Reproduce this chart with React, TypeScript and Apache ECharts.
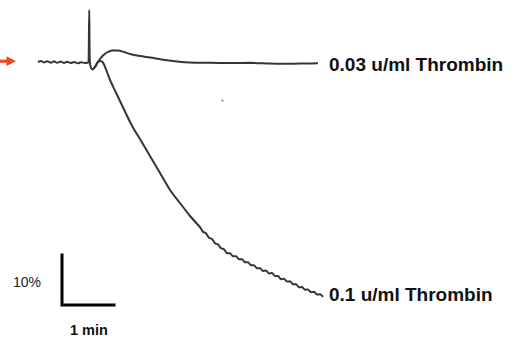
import React, { useEffect, useRef } from "react";
import * as echarts from "echarts";

// Time in seconds after recording start, aggregation in % (downward on the trace).
const lowDoseTime = [
  0, 3.5, 6.9, 10.4, 15.0, 18.5, 21.9, 26.5, 30.0, 33.5, 38.1, 41.5, 46.2, 49.6, 54.2, 57.7,
  58.4, 59.1, 59.8, 61.2, 63.0, 65.5, 68.1, 71.5, 75.0, 79.6, 85.4, 92.3, 99.2, 106.2, 117.7,
  129.2, 146.5, 160.4, 175.4, 198.5, 221.5, 244.6, 267.7, 290.8, 308.1, 323.1,
];
const lowDoseAggregation = [
  0, -0.2, 0.1, -0.16, 0.14, -0.14, 0.16, -0.1, 0.2, -0.06, 0.2, 0, 0.24, 0.06, 0.2, 0.1,
  0, -10.4, 0, 1.2, 1.5, 1.0, 0.2, -0.6, -1.3, -1.9, -2.3, -2.3, -2.0, -1.6, -1.2,
  -0.9, -0.4, -0.1, 0.1, 0.16, 0.2, 0.16, 0.3, 0.36, 0.3, 0.26,
];

const highDoseTime = [
  63.0, 66.0, 69.0, 71.5, 73.8, 76.2, 79.6, 83.1, 88.8, 94.6, 100.4, 106.2, 111.9, 117.7,
  129.2, 140.8, 152.3, 163.8, 175.4, 186.9, 190.4, 193.8, 197.3, 200.8, 204.2, 207.7, 211.2,
  214.6, 218.1, 221.5, 225.0, 228.5, 231.9, 235.4, 238.8, 242.3, 245.8, 249.2, 252.7, 256.2,
  259.6, 263.1, 266.5, 270.0, 273.5, 276.9, 280.4, 283.8, 287.3, 290.8, 294.2, 297.7, 301.2,
  304.6, 308.1, 311.5, 315.0, 318.5, 321.9, 325.4, 328.8,
];
const highDoseAggregation = [
  1.5, 1.0, 0.1, -0.2, -0.1, 0.5, 2.0, 3.6, 5.7, 7.8, 9.9, 12.0, 13.8, 15.4,
  18.8, 22.2, 25.6, 28.2, 30.8, 33.04, 33.96, 34.24, 35.16, 35.38, 36.26, 36.48, 37.26,
  37.44, 38.26, 38.24, 38.86, 38.84, 39.46, 39.44, 40.06, 40.04, 40.66, 40.64, 41.26, 41.24,
  41.8, 41.72, 42.28, 42.2, 42.82, 42.8, 43.44, 43.36, 43.92, 43.84, 44.46, 44.44, 45.06,
  45.0, 45.56, 45.48, 46.04, 45.96, 46.52, 46.44, 46.96,
];

const seriesNames = ["0.03 u/ml Thrombin", "0.1 u/ml Thrombin"];

// Calibration bar: 1 min horizontally, 10 % vertically.
const scaleBarTime = [27.7, 27.7, 87.7];
const scaleBarAggregation = [38.6, 48.6, 48.6];
const scaleBarLabels = ["10%", "1 min"];

const pair = (xs: number[], ys: number[]) => xs.map((x, i) => [x, ys[i]]);

const TRACE = "#353535";
const FONT = "'Liberation Sans', Arial, sans-serif";
const MARKER = "#f2461b";

export default function App() {
  const ref = useRef<HTMLDivElement>(null);

  useEffect(() => {
    if (!ref.current) return;
    const chart = echarts.init(ref.current, null, { renderer: "svg" });
    chart.setOption({
      animation: false,
      backgroundColor: "#ffffff",
      grid: { left: 38, right: 192, top: 2, bottom: 18 },
      xAxis: {
        type: "value",
        min: 0,
        max: 330,
        show: false,
      },
      yAxis: {
        type: "value",
        min: -12,
        max: 52,
        inverse: true,
        show: false,
      },
      series: [
        {
          name: seriesNames[0],
          type: "line",
          data: pair(lowDoseTime, lowDoseAggregation),
          showSymbol: false,
          smooth: 0.25,
          clip: false,
          lineStyle: { color: TRACE, width: 2 },
          endLabel: {
            show: true,
            formatter: "{a}",
            distance: 11,
            offset: [0, 1.5],
            color: "#111",
            fontFamily: FONT,
            fontWeight: "bold",
            fontSize: 19,
          },
        },
        {
          name: seriesNames[1],
          type: "line",
          data: pair(highDoseTime, highDoseAggregation),
          showSymbol: false,
          smooth: 0.25,
          clip: false,
          lineStyle: { color: TRACE, width: 2 },
          endLabel: {
            show: true,
            formatter: "{a}",
            distance: 6,
            offset: [0, -2],
            color: "#111",
            fontFamily: FONT,
            fontWeight: "bold",
            fontSize: 19,
          },
        },
        {
          name: "scale",
          type: "line",
          data: pair(scaleBarTime, scaleBarAggregation),
          showSymbol: false,
          clip: false,
          lineStyle: { color: "#000", width: 3, join: "miter", cap: "square" },
        },
      ],
      graphic: [
        // red marker arrow pointing at the baseline
        { type: "rect", shape: { x: 0, y: 59.6, width: 8, height: 3.2 }, style: { fill: MARKER } },
        {
          type: "polygon",
          shape: { points: [[6.5, 56.3], [16, 61.2], [6.5, 66.1]] },
          style: { fill: MARKER },
        },
        {
          type: "text",
          left: 13,
          top: 275,
          style: { text: scaleBarLabels[0], fontFamily: FONT, fontSize: 14, fill: "#222" },
        },
        {
          type: "text",
          left: 70,
          top: 322,
          style: {
            text: scaleBarLabels[1],
            fontFamily: FONT,
            fontSize: 14.5,
            fontWeight: "bold",
            fill: "#111",
          },
        },
        { type: "circle", shape: { cx: 222.5, cy: 100.5, r: 1.1 }, style: { fill: "#8a8a8a" } },
      ],
    });
    return () => chart.dispose();
  }, []);

  return (
    <div
      ref={ref}
      style={{ position: "fixed", left: 0, top: 0, width: 516, height: 340 }}
    />
  );
}
